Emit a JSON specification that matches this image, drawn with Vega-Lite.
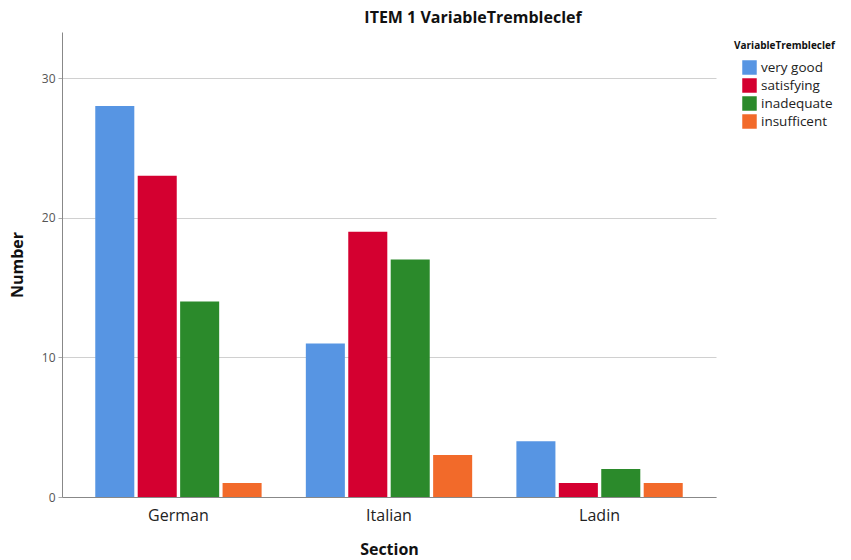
{
  "$schema": "https://vega.github.io/schema/vega-lite/v6.json",
  "autosize": "none",
  "width": 654,
  "height": 465,
  "padding": {"left": 62, "top": 32, "right": 135, "bottom": 63},
  "background": "white",
  "title": {
    "text": "ITEM 1 VariableTrembleclef",
    "font": "Open Sans",
    "fontSize": 16,
    "fontWeight": "bold",
    "color": "#111111",
    "anchor": "middle",
    "dx": 84,
    "offset": 6
  },
  "data": {
    "values": [
      {"Section": "German", "cat": "very good", "n": 28},
      {"Section": "German", "cat": "satisfying", "n": 23},
      {"Section": "German", "cat": "inadequate", "n": 14},
      {"Section": "German", "cat": "insufficent", "n": 1},
      {"Section": "Italian", "cat": "very good", "n": 11},
      {"Section": "Italian", "cat": "satisfying", "n": 19},
      {"Section": "Italian", "cat": "inadequate", "n": 17},
      {"Section": "Italian", "cat": "insufficent", "n": 3},
      {"Section": "Ladin", "cat": "very good", "n": 4},
      {"Section": "Ladin", "cat": "satisfying", "n": 1},
      {"Section": "Ladin", "cat": "inadequate", "n": 2},
      {"Section": "Ladin", "cat": "insufficent", "n": 1}
    ]
  },
  "mark": {"type": "bar"},
  "encoding": {
    "x": {
      "field": "Section",
      "type": "nominal",
      "sort": ["German", "Italian", "Ladin"],
      "scale": {"paddingInner": 0.21, "paddingOuter": 0.158},
      "axis": {
        "title": "Section",
        "titleFont": "Open Sans",
        "titleFontSize": 16,
        "titleFontWeight": "bold",
        "titleColor": "#111111",
        "titlePadding": 18,
        "labelFont": "Open Sans",
        "labelFontSize": 16,
        "labelColor": "#222222",
        "labelAngle": 0,
        "labelPadding": 10,
        "ticks": false,
        "domainColor": "#888888",
        "domainWidth": 1,
        "grid": false
      }
    },
    "xOffset": {
      "field": "cat",
      "type": "nominal",
      "sort": ["very good", "satisfying", "inadequate", "insufficent"],
      "scale": {"paddingInner": 0.08, "paddingOuter": 0}
    },
    "y": {
      "field": "n",
      "type": "quantitative",
      "scale": {"domain": [0, 33.3], "nice": false},
      "axis": {
        "title": "Number",
        "values": [0, 10, 20, 30],
        "titleFont": "Open Sans",
        "titleFontSize": 16,
        "titleFontWeight": "bold",
        "titleColor": "#111111",
        "titlePadding": 16,
        "labelFont": "Open Sans",
        "labelFontSize": 12,
        "labelColor": "#555555",
        "labelPadding": 3,
        "tickSize": 4,
        "tickColor": "#aaaaaa",
        "domainColor": "#888888",
        "gridColor": "#d0d0d0",
        "grid": true
      }
    },
    "color": {
      "field": "cat",
      "type": "nominal",
      "sort": ["very good", "satisfying", "inadequate", "insufficent"],
      "scale": {
        "domain": ["very good", "satisfying", "inadequate", "insufficent"],
        "range": ["#5795e3", "#d40030", "#2b8a2b", "#f26a2a"]
      },
      "legend": {
        "title": "VariableTrembleclef",
        "orient": "none",
        "legendX": 672,
        "legendY": 9,
        "titleFont": "Open Sans",
        "titleFontSize": 10,
        "titleFontWeight": "bold",
        "titleColor": "#111111",
        "titlePadding": 9,
        "labelFont": "Open Sans",
        "labelFontSize": 13.5,
        "labelColor": "#222222",
        "symbolType": "square",
        "symbolSize": 210,
        "symbolStrokeWidth": 0,
        "symbolOpacity": 1,
        "symbolOffset": 8,
        "rowPadding": 3,
        "labelOffset": 4,
        "padding": 0
      }
    }
  },
  "config": {
    "view": {"stroke": null},
    "bar": {"stroke": null}
  }
}
